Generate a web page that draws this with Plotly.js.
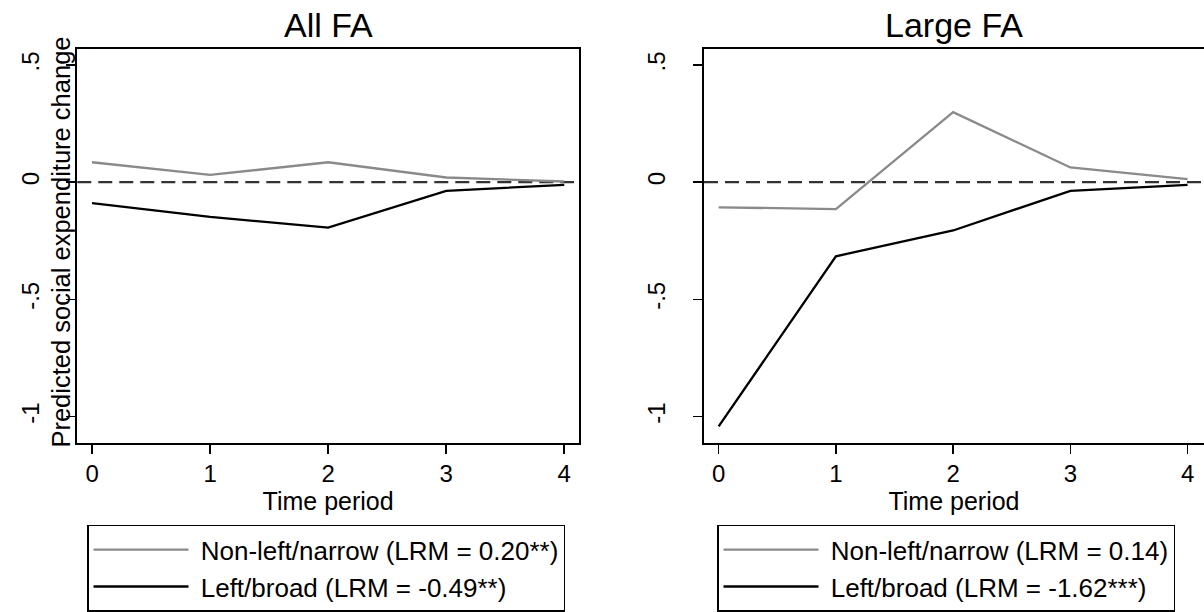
<!DOCTYPE html>
<html>
<head>
<meta charset="utf-8">
<script src="https://cdn.plot.ly/plotly-3.0.1.min.js"></script>
<style>html,body{margin:0;padding:0;background:#fff;}#chart{width:1204px;height:612px;}</style>
</head>
<body>
<div id="chart"></div>
<script>
// ---- data ----
const period = [0, 1, 2, 3, 4];
const allNarrow = [0.085, 0.031, 0.085, 0.020, 0.003];
const allBroad = [-0.089, -0.148, -0.194, -0.037, -0.011];
const largeNarrow = [-0.107, -0.115, 0.299, 0.063, 0.013];
const largeBroad = [-1.042, -0.316, -0.206, -0.037, -0.011];
const xTickVals = [0, 1, 2, 3, 4];
const xTickText = ['0', '1', '2', '3', '4'];
const yTickVals = [-1, -0.5, 0, 0.5];
const yTickText = ['-1', '-.5', '0', '.5'];
const legendAll = ['Non-left/narrow (LRM = 0.20**)', 'Left/broad (LRM = -0.49**)'];
const legendLarge = ['Non-left/narrow (LRM = 0.14)', 'Left/broad (LRM = -1.62***)'];
const panelTitles = ['All FA', 'Large FA'];
const xTitle = 'Time period';
const yTitle = 'Predicted social expenditure change';

// ---- styling ----
const FONT = '"Liberation Sans", Arial, Helvetica, sans-serif';
const GRAY = '#8a8a8a';
const BLACK = '#000000';
const W = 1204, H = 612;
const px = v => v / W;
const py = v => 1 - v / H;
const lead = s => '\u00a0' + s;

const traces = [
  {x: period, y: allNarrow, xaxis: 'x', yaxis: 'y', mode: 'lines', name: lead(legendAll[0]),
   line: {color: GRAY, width: 2.3}, legend: 'legend'},
  {x: period, y: allBroad, xaxis: 'x', yaxis: 'y', mode: 'lines', name: lead(legendAll[1]),
   line: {color: BLACK, width: 2.3}, legend: 'legend'},
  {x: period, y: largeNarrow, xaxis: 'x2', yaxis: 'y2', mode: 'lines', name: lead(legendLarge[0]),
   line: {color: GRAY, width: 2.3}, legend: 'legend2'},
  {x: period, y: largeBroad, xaxis: 'x2', yaxis: 'y2', mode: 'lines', name: lead(legendLarge[1]),
   line: {color: BLACK, width: 2.3}, legend: 'legend2'}
];

const xBase = {
  range: [-0.125, 4.125], tickmode: 'array', tickvals: xTickVals, ticktext: xTickText,
  ticks: 'outside', ticklen: 9, tickwidth: 1.5, tickcolor: '#000',
  showline: true, linecolor: '#000', linewidth: 2, mirror: true,
  showgrid: false, zeroline: false, automargin: false,
  tickfont: {family: FONT, size: 24, color: '#000'},
  title: {text: xTitle, font: {family: FONT, size: 25, color: '#000'}, standoff: 0},
  fixedrange: true
};
const yBase = {
  range: [-1.111, 0.569], tickmode: 'array', tickvals: yTickVals, ticktext: yTickText,
  ticks: 'outside', ticklen: 9, tickwidth: 1.5, tickcolor: '#000', tickangle: -90,
  ticklabelstandoff: 18,
  showline: true, linecolor: '#000', linewidth: 2, mirror: true,
  showgrid: false, zeroline: false, automargin: false,
  tickfont: {family: FONT, size: 24, color: '#000'},
  domain: [py(447), py(49.3)], fixedrange: true
};

const legendBase = {
  yanchor: 'top', xanchor: 'left', xref: 'paper', yref: 'paper',
  bgcolor: '#fff', bordercolor: '#000', borderwidth: 1.5,
  font: {family: FONT, size: 26, color: '#000'},
  itemwidth: 95, tracegroupgap: 0, traceorder: 'normal'
};

const layout = {
  width: W, height: H,
  margin: {l: 0, r: 0, t: 0, b: 0, pad: 0},
  paper_bgcolor: '#fff', plot_bgcolor: '#fff',
  font: {family: FONT, color: '#000'},
  showlegend: true,
  xaxis: Object.assign({}, xBase, {domain: [px(77.3), px(579)], anchor: 'y'}),
  yaxis: Object.assign({}, yBase, {anchor: 'x'}),
  xaxis2: Object.assign({}, xBase, {domain: [px(704), 1], anchor: 'y2', range: [-0.125, 4.14]}),
  yaxis2: Object.assign({}, yBase, {anchor: 'x2', mirror: false}),
  legend: Object.assign({}, legendBase, {x: px(87), y: py(530)}),
  legend2: Object.assign({}, legendBase, {x: px(717), y: py(530)}),
  shapes: [
    {type: 'line', xref: 'x domain', yref: 'y', x0: 0, x1: 0.99, y0: 0, y1: 0,
     line: {color: '#333', width: 2.3, dash: '14px,7px'}, layer: 'below'},
    {type: 'line', xref: 'x2 domain', yref: 'y2', x0: 0, x1: 1, y0: 0, y1: 0,
     line: {color: '#333', width: 2.3, dash: '14px,7px'}, layer: 'below'}
  ],
  annotations: [
    {text: panelTitles[0], xref: 'x domain', yref: 'paper', x: 0.5, y: py(25),
     xanchor: 'center', yanchor: 'middle', showarrow: false,
     font: {family: FONT, size: 34, color: '#000'}},
    {text: panelTitles[1], xref: 'x2 domain', yref: 'paper', x: 0.5, y: py(25),
     xanchor: 'center', yanchor: 'middle', showarrow: false,
     font: {family: FONT, size: 34, color: '#000'}},
    {text: yTitle, xref: 'paper', yref: 'paper', x: px(61), y: py(245),
     xanchor: 'center', yanchor: 'middle', textangle: -90, showarrow: false,
     font: {family: FONT, size: 25.5, color: '#000'}}
  ]
};

Plotly.newPlot('chart', traces, layout, {staticPlot: true, displayModeBar: false});
</script>
</body>
</html>
